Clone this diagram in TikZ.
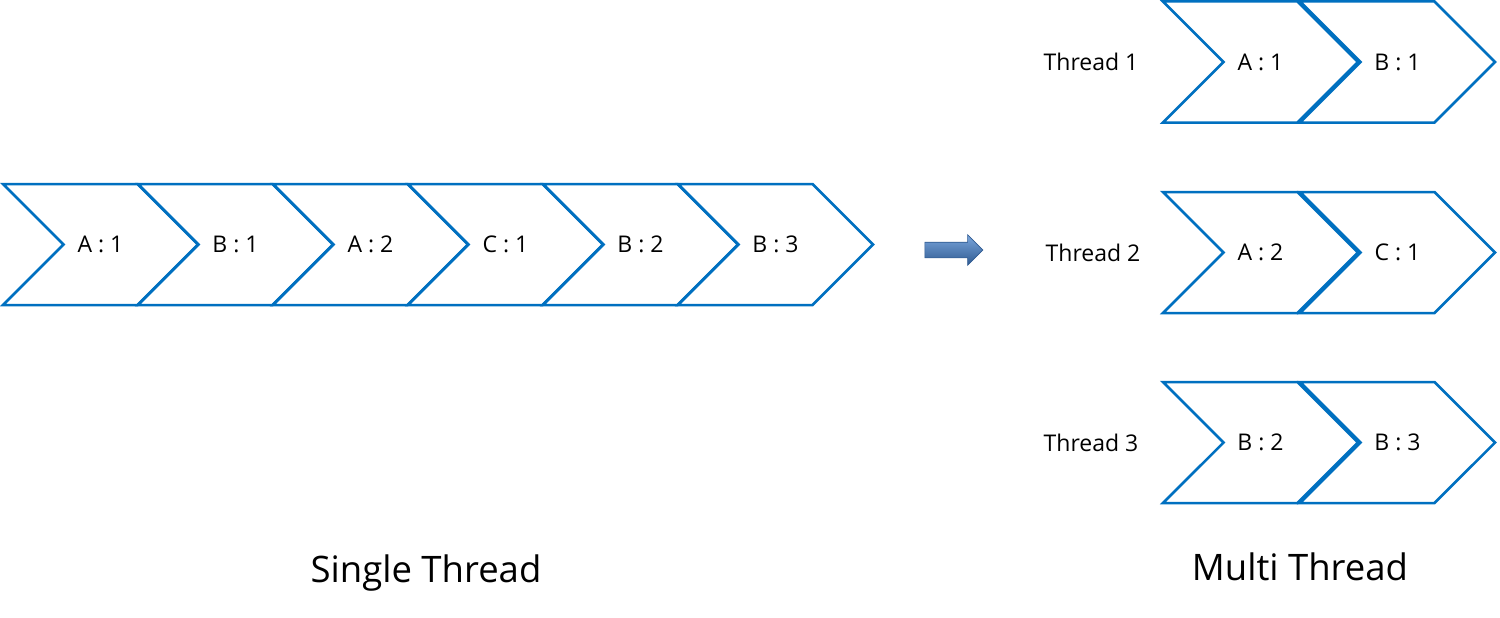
\documentclass[tikz,border=0pt]{standalone}
\usepackage{fontspec}
\setmainfont{Open Sans}
\usetikzlibrary{shapes.symbols,shapes.arrows}
\usetikzlibrary{positioning}
\definecolor{chevblue}{HTML}{0070C0}
\definecolor{arrlight}{HTML}{7AA6DC}
\definecolor{arrdark}{HTML}{2F5A91}
\tikzset{chev/.style = {signal, signal from=west, signal to=east,
    signal pointer angle=90, draw=chevblue, line width=2.5pt, fill=white,
    minimum width=195pt, minimum height=121pt, inner sep=0pt,
    font=\fontsize{23}{27}\selectfont}}
\tikzset{thread/.style = {font=\fontsize{23}{27}\selectfont}}
\tikzset{caption/.style = {font=\fontsize{36.5}{44}\selectfont}}

\begin{document}
\begin{tikzpicture}[x=1pt,y=-1pt]
    \useasboundingbox (0,0) rectangle (1500,618);
    % Single thread row
    \node [chev] (s1) at (100.5,244.5) {A : 1};
    \node [chev] (s2) at (235.5,244.5) {B : 1};
    \node [chev] (s3) at (370.5,244.5) {A : 2};
    \node [chev] (s4) at (505.5,244.5) {C : 1};
    \node [chev] (s5) at (640.5,244.5) {B : 2};
    \node [chev] (s6) at (775.5,244.5) {B : 3};
    \node [caption] (single) at (426,573) {Single Thread};
    % Arrow
    \node [single arrow, draw=arrdark, line width=0.6pt, top color=arrlight,
        bottom color=arrdark, minimum height=58pt, minimum width=30pt,
        single arrow head extend=7.5pt, inner xsep=0pt, inner ysep=7.5pt]
        (arr) at (950,250) {};
    % Multi thread rows
    \node [chev] (t1a) at (1260.5,62) {A : 1};
    \node [chev] (t1b) at (1397.5,62) {B : 1};
    \node [chev] (t2a) at (1260.5,252.5) {A : 2};
    \node [chev] (t2b) at (1397.5,252.5) {C : 1};
    \node [chev] (t3a) at (1260.5,442.5) {B : 2};
    \node [chev] (t3b) at (1397.5,442.5) {B : 3};
    \node [thread] (th1) at (1091,62) {Thread 1};
    \node [thread] (th2) at (1093,252.5) {Thread 2};
    \node [thread] (th3) at (1091,442.5) {Thread 3};
    \node [caption] (multi) at (1300,567) {Multi Thread};
\end{tikzpicture}
\end{document}
